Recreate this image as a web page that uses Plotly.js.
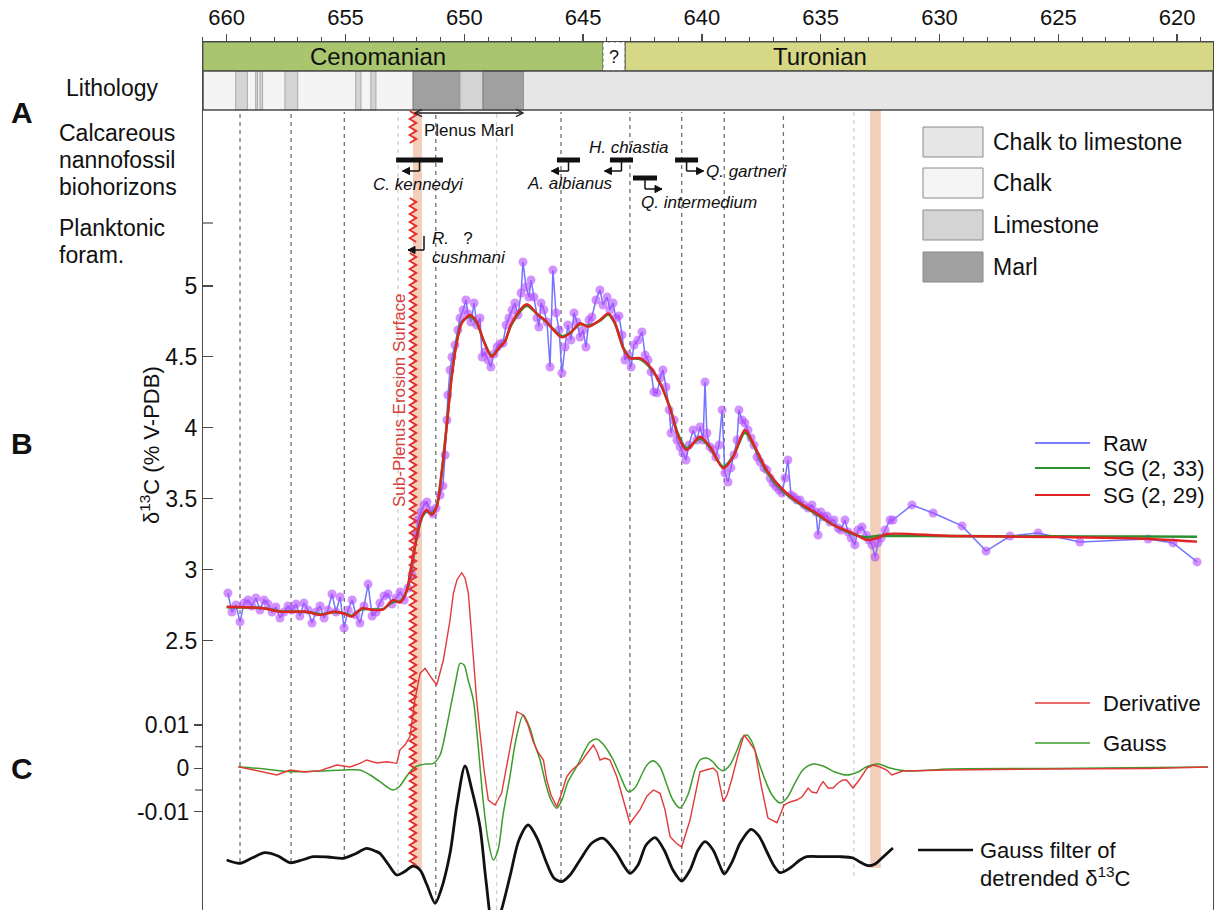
<!DOCTYPE html>
<html>
<head>
<meta charset="utf-8">
<script src="https://cdn.plot.ly/plotly-3.0.1.min.js"></script>
<style>html,body{margin:0;padding:0;background:#fff}#chart{width:1216px;height:910px}</style>
</head>
<body>
<div id="chart"></div>
<script>
// ---------------- DATA ----------------
// Raw δ13C record
const rawAge = [
659.95,659.78,659.61,659.44,659.27,659.10,658.94,658.77,658.60,658.43,
658.26,658.09,657.93,657.76,657.59,657.42,657.25,657.08,656.92,656.75,
656.58,656.41,656.24,656.07,655.90,655.74,655.57,655.40,655.23,655.06,
654.89,654.72,654.56,654.39,654.22,654.05,653.88,653.71,653.55,653.38,
653.21,653.04,652.87,652.70,652.53,652.37,
652.20,652.03,651.95,651.82,651.70,651.57,651.44,651.32,651.19,651.02,
650.90,650.81,650.73,650.69,650.60,650.52,650.39,650.27,650.18,650.05,
649.93,649.84,649.72,649.59,649.47,649.34,649.25,649.13,649.00,648.88,
648.75,648.62,648.50,648.37,648.24,648.12,647.99,647.87,647.74,647.61,
647.53,647.40,647.28,647.19,647.07,646.94,646.86,646.77,646.65,646.52,
646.39,646.27,646.14,646.01,645.89,645.76,645.64,645.51,645.38,645.26,
645.13,645.00,644.88,644.75,644.63,644.46,644.29,644.16,643.99,643.87,
643.74,643.62,643.49,643.36,643.24,643.11,642.98,642.86,642.69,642.52,
642.39,642.27,642.14,642.02,641.89,641.76,641.64,641.51,641.38,641.30,
641.17,641.05,640.92,640.80,640.67,640.54,640.37,640.21,640.08,639.95,
639.87,639.79,639.66,639.53,639.41,639.28,639.15,639.03,638.90,638.78,
638.65,638.52,638.44,638.31,638.19,638.06,637.93,637.81,637.68,637.55,
637.39,637.26,637.13,637.01,636.88,636.75,636.63,636.50,636.38,636.25,
636.12,636.00,635.87,635.70,635.53,635.37,635.20,635.11,634.99,634.86,
634.73,634.61,634.44,634.27,634.15,633.98,633.85,633.72,633.56,633.43,
633.26,633.09,632.97,632.84,632.71,632.59,632.46,632.29,632.08,631.96,
631.16,630.27,629.05,628.04,627.03,625.85,624.09,621.22,620.17,619.16];
const rawD13C = [
2.835,2.701,2.750,2.631,2.764,2.786,2.743,2.800,2.715,2.786,
2.757,2.701,2.736,2.659,2.701,2.743,2.715,2.757,2.673,2.764,
2.715,2.623,2.701,2.743,2.659,2.715,2.828,2.701,2.807,2.588,
2.715,2.786,2.680,2.623,2.743,2.898,2.673,2.701,2.764,2.814,
2.828,2.757,2.800,2.842,2.786,2.870,
2.962,3.244,3.350,3.406,3.456,3.477,3.420,3.392,3.434,3.526,
3.590,3.808,4.055,4.231,4.408,4.499,4.584,4.690,4.774,4.831,
4.901,4.803,4.746,4.880,4.725,4.774,4.499,4.535,4.478,4.429,
4.521,4.570,4.591,4.598,4.725,4.774,4.831,4.880,4.796,4.951,
5.169,4.993,4.922,5.042,4.922,4.774,4.711,4.880,4.831,4.746,
4.429,5.113,4.810,4.690,4.386,4.570,4.725,4.619,4.810,4.746,
4.640,4.690,4.570,4.760,4.781,4.901,4.972,4.866,4.922,4.831,
4.880,4.774,4.789,4.655,4.478,4.513,4.429,4.584,4.619,4.676,
4.513,4.478,4.394,4.253,4.246,4.351,4.408,4.288,4.126,3.963,
4.055,3.914,3.865,3.822,3.773,3.879,3.985,3.914,4.006,3.914,
4.323,3.963,3.865,3.844,3.794,3.879,4.126,3.681,3.618,3.717,
3.808,3.914,4.126,4.055,4.034,3.985,3.928,3.879,3.794,3.759,
3.717,3.702,3.646,3.611,3.583,3.561,3.540,3.646,3.773,3.526,
3.512,3.491,3.491,3.456,3.434,3.456,3.406,3.244,3.406,3.371,
3.378,3.336,3.350,3.293,3.279,3.350,3.265,3.223,3.174,3.279,
3.301,3.244,3.209,3.174,3.089,3.188,3.223,3.279,3.350,3.350,
3.456,3.399,3.308,3.131,3.237,3.258,3.195,3.216,3.188,3.054];

// Savitzky-Golay smoothed curves
const sgAge = [660.00,658.46,657.76,656.63,656.07,655.51,655.09,654.74,654.32,653.83,
653.41,652.99,652.71,652.42,652.21,652.00,651.79,651.58,651.37,651.16,
650.95,650.74,650.53,650.32,650.11,649.76,649.48,649.20,648.85,648.50,
648.29,648.01,647.37,646.89,646.60,646.25,645.90,645.55,645.13,644.78,
644.29,643.94,643.66,643.31,643.03,642.61,642.18,641.76,641.34,640.99,
640.64,640.08,639.66,639.10,638.68,638.19,637.77,637.27,636.57,635.87,
635.17,634.47,633.63,633.06,632.64,632.22,629.55,625.35,621.14,619.16];
const sg29 = [2.738,2.727,2.703,2.703,2.680,2.703,2.692,2.668,2.727,2.715,
2.720,2.786,2.767,2.856,3.044,3.232,3.373,3.420,3.385,3.444,
3.679,4.008,4.360,4.596,4.737,4.795,4.748,4.619,4.501,4.572,
4.607,4.737,4.871,4.795,4.760,4.690,4.638,4.666,4.737,4.713,
4.760,4.807,4.740,4.561,4.491,4.491,4.431,4.314,4.138,3.937,
3.843,3.937,3.867,3.714,3.796,3.984,3.867,3.702,3.561,3.468,
3.397,3.315,3.256,3.209,3.221,3.251,3.237,3.230,3.216,3.197];
const sg33 = [2.735,2.728,2.706,2.702,2.685,2.700,2.693,2.675,2.720,2.718,
2.722,2.775,2.775,2.850,3.040,3.225,3.365,3.410,3.395,3.450,
3.690,4.020,4.370,4.610,4.745,4.785,4.740,4.620,4.510,4.570,
4.610,4.730,4.860,4.795,4.755,4.695,4.645,4.670,4.730,4.720,
4.755,4.800,4.735,4.565,4.495,4.485,4.425,4.315,4.140,3.950,
3.855,3.925,3.860,3.725,3.800,3.965,3.860,3.690,3.550,3.462,
3.390,3.315,3.250,3.228,3.237,3.238,3.236,3.234,3.233,3.232];

// Panel C: derivative of SG curve
const derivAge = [659.51,658.72,657.89,657.33,656.70,656.07,655.37,654.81,654.39,654.11,
653.69,653.27,652.84,652.71,652.50,652.29,652.08,651.86,651.65,651.37,
651.16,650.88,650.74,650.60,650.46,650.31,650.11,649.97,649.83,649.62,
649.48,649.34,649.17,648.99,648.71,648.43,648.24,648.08,647.79,647.52,
647.32,647.10,646.90,646.67,646.53,646.35,646.11,645.93,645.69,645.47,
645.13,644.88,644.57,644.41,644.29,644.08,643.87,643.58,643.32,643.03,
642.61,642.31,642.04,641.76,641.55,641.34,641.09,640.85,640.50,640.08,
639.83,639.53,639.36,639.10,638.94,638.75,638.48,638.23,638.06,637.77,
637.51,637.22,636.84,636.54,636.29,636.01,635.79,635.53,635.37,635.17,
635.03,634.90,634.69,634.48,634.27,634.06,633.91,633.64,633.35,633.05,
632.80,632.50,632.22,632.01,631.54,629.56,625.35,621.14,618.70];
const deriv = [0.00037,-0.00062,-0.00155,-0.00039,-0.00085,-0.00055,0.00076,0.00030,0.00115,0.00192,
0.00122,0.00152,0.00115,0.00423,0.00538,0.00730,0.01577,0.02194,0.02310,0.02079,
0.01924,0.02501,0.02963,0.03425,0.04042,0.04349,0.04517,0.04395,0.04049,0.02501,
0.01577,0.00815,-0.00039,-0.00732,-0.00848,-0.00577,-0.00039,0.00499,0.01307,0.01231,
0.01000,0.00614,0.00376,0.00192,-0.00270,-0.00617,-0.00887,-0.00617,-0.00194,-0.00039,
0.00115,0.00307,0.00538,0.00376,0.00192,0.00238,0.00192,-0.00194,-0.00732,-0.01270,
-0.00963,-0.00640,-0.00501,-0.00577,-0.00963,-0.01580,-0.01725,-0.01818,-0.01194,-0.00079,
-0.00039,0.00007,-0.00085,-0.00771,-0.00617,-0.00270,0.00307,0.00769,0.00654,0.00423,
-0.00386,-0.01148,-0.01256,-0.00848,-0.00778,-0.00732,-0.00663,-0.00455,-0.00547,-0.00570,
-0.00409,-0.00309,-0.00455,-0.00455,-0.00339,-0.00270,-0.00270,-0.00455,-0.00247,0.00007,
0.00076,0.00030,-0.00039,-0.00155,-0.00062,-0.00039,-0.00016,-0.00005,0.00030];

// Panel C: Gauss filter of derivative
const gaussAge = [659.51,658.39,657.33,656.07,655.02,654.39,653.97,653.55,653.25,652.99,
652.71,652.45,652.15,651.86,651.61,651.30,651.02,650.74,650.52,650.35,
650.18,650.01,649.84,649.62,649.42,649.21,649.00,648.78,648.58,648.37,
648.08,647.83,647.52,647.24,647.03,646.81,646.56,646.35,646.11,645.89,
645.64,645.27,644.92,644.71,644.43,644.16,643.95,643.73,643.45,643.10,
642.82,642.52,642.31,642.06,641.76,641.47,641.22,640.92,640.59,640.29,
640.08,639.80,639.53,639.32,639.11,638.82,638.52,638.31,638.11,637.89,
637.64,637.34,637.05,636.71,636.42,636.08,635.75,635.32,634.90,634.40,
633.91,633.43,633.09,632.59,632.08,631.38,629.56,625.35,618.70];
const gaussD = [0.00037,-0.00016,-0.00079,-0.00062,-0.00039,-0.00039,-0.00155,-0.00309,-0.00432,-0.00501,
-0.00409,-0.00201,0,0.00076,0.00099,0.00115,0.00307,0.00961,0.01577,0.02039,
0.02425,0.02386,0.02039,0.01577,0.00538,-0.00732,-0.01656,-0.02118,-0.01887,-0.01079,
-0.00194,0.00654,0.01231,0.00931,0.00538,0.00192,-0.00386,-0.00732,-0.00924,-0.00732,
-0.00316,0.00037,0.00423,0.00607,0.00677,0.00561,0.00400,0.00192,-0.00155,-0.00540,
-0.00455,-0.00132,0.00076,0.00176,0.00030,-0.00386,-0.00732,-0.00917,-0.00617,-0.00039,
0.00192,0.00238,0.00145,0.00007,-0.00055,0.00076,0.00423,0.00700,0.00769,0.00607,
0.00192,-0.00270,-0.00617,-0.00801,-0.00686,-0.00339,-0.00039,0.00099,0.00053,-0.00085,
-0.00155,-0.00085,0.00030,0.00099,0.00007,-0.00062,-0.00016,-0.00005,0.00030];

// Gauss filter of detrended δ13C (arbitrary units)
const gfAge = [660.00,659.44,658.94,658.39,657.84,657.33,656.83,656.36,655.74,655.09,
654.60,654.11,653.76,653.55,653.21,652.84,652.54,652.15,651.86,651.57,
651.23,650.98,650.60,650.31,649.97,649.68,649.34,649.09,648.78,648.50,
648.08,647.70,647.31,646.94,646.53,646.23,645.90,645.55,645.13,644.63,
644.15,643.59,643.28,643.03,642.69,642.35,641.97,641.59,641.22,640.85,
640.50,640.16,639.87,639.53,639.24,639.06,638.73,638.39,637.93,637.60,
637.26,636.96,636.71,636.29,635.87,635.59,634.90,634.19,633.64,633.35,
633.01,632.71,632.33,631.96];
const gf = [0,-0.033,0.02,0.073,0.04,-0.027,0,0.033,0.03,0.017,
0.06,0.117,0.09,0.067,-0.04,-0.15,-0.12,-0.06,-0.10,-0.25,
-0.433,-0.30,0.067,0.55,0.94,0.70,0.333,-0.20,-0.70,-0.55,
-0.167,0.20,0.35,0.22,-0.033,-0.18,-0.217,-0.15,0,0.17,
0.217,0.067,-0.06,-0.133,-0.05,0.15,0.223,0.10,-0.10,-0.21,
-0.10,0.10,0.183,0.10,-0.06,-0.14,-0.02,0.17,0.307,0.24,
0.08,-0.06,-0.127,-0.08,0,0.033,0.033,0.033,0.02,-0.02,
-0.057,-0.04,0.04,0.12];

// Stages
const stageName = ['Cenomanian', '?', 'Turonian'];
const stageFrom = [661.0, 644.16, 643.23];
const stageTo = [644.16, 643.23, 618.4];

// Lithology intervals (drawn in order)
const lithoType = ['Chalk','Limestone','Limestone','Limestone','Limestone','Limestone','Limestone','Marl','Limestone','Marl','Chalk to limestone'];
const lithoFrom = [661.0, 659.62, 658.78, 658.60, 657.55, 654.57, 653.93, 652.16, 650.18, 649.21, 647.49];
const lithoTo   = [652.16, 659.13, 658.70, 658.49, 657.01, 654.35, 653.72, 650.18, 649.21, 647.49, 618.4];

// Cycle boundaries (dashed lines); faint = lighter lines
const cycleAge = [659.44, 657.29, 655.05, 652.79, 651.20, 648.64, 645.93, 643.03, 640.85, 639.06, 636.57, 633.60];
const cycleFaint = [0,0,0,1,0,1,0,0,0,0,0,1];

// Highlighted intervals (orange bands)
const bandFrom = [652.16, 632.92];
const bandTo = [651.78, 632.47];

// Plenus Marl extent
const plenusFrom = 652.08, plenusTo = 647.53;

// Nannofossil biohorizons
const bioName = ['C. kennedyi', 'A. albianus', 'H. chiastia', 'Q. intermedium', 'Q. gartneri'];
const bioFrom = [652.87, 646.10, 643.87, 642.90, 641.13];
const bioTo   = [650.90, 645.13, 642.90, 641.89, 640.16];
const bioDir  = ['left','left','left','right','right'];

// ---------------- LAYOUT HELPERS ----------------
const F = 'Arial, "Liberation Sans", Helvetica, sans-serif';
const X = p => 660 - (p - 226.7) / 23.76;   // page px -> axis position
const PX = a => 226.7 + (660 - a) * 23.76;  // axis position -> page px
const Y = p => (910 - p) / 868;             // page px -> paper y
const XP = p => (p - 203) / 1010;           // page px -> paper x

const shapes = [];
const annotations = [];

// horizontal arrow drawn with shapes: tail px -> tip px at row py
function hArrow(tail, tip, py, col, w, open) {
  shapes.push({type:'line', xref:'paper', yref:'paper', x0:XP(tail), x1:XP(tip), y0:Y(py), y1:Y(py), line:{color:col, width:w}, layer:'above'});
  const s = tip > tail ? -1 : 1;
  const p = 'M' + XP(tip + s * 7) + ',' + Y(py - 3.6) + ' L' + XP(tip) + ',' + Y(py) + ' L' + XP(tip + s * 7) + ',' + Y(py + 3.6) + (open ? '' : ' Z');
  shapes.push({type:'path', xref:'paper', yref:'paper', path:p, fillcolor: open ? 'rgba(0,0,0,0)' : col, line:{color:col, width: open ? w : 1}, layer:'above'});
}

const stageFill = {'Cenomanian':'#a9c66f', '?':'#ffffff', 'Turonian':'#d6d886'};
stageName.forEach((n, i) => {
  shapes.push({type:'rect', xref:'x', yref:'paper', x0:stageFrom[i], x1:stageTo[i], y0:Y(71), y1:Y(42),
    fillcolor:stageFill[n], line:{color: n === '?' ? '#777' : '#4a4a4a', width:1, dash: n === '?' ? 'dot' : 'solid'}, layer:'below'});
});
annotations.push({text:'Cenomanian', xref:'paper', yref:'paper', x:XP(378), y:Y(57), showarrow:false, xanchor:'center', yanchor:'middle', font:{family:F, size:24, color:'#111'}});
annotations.push({text:'?', xref:'x', yref:'paper', x:(stageFrom[1] + stageTo[1]) / 2, y:Y(57), showarrow:false, xanchor:'center', yanchor:'middle', font:{family:F, size:18, color:'#111'}});
annotations.push({text:'Turonian', xref:'paper', yref:'paper', x:XP(820), y:Y(57), showarrow:false, xanchor:'center', yanchor:'middle', font:{family:F, size:24, color:'#111'}});

const lithoFill = {'Chalk':'#f4f4f4', 'Limestone':'#d4d4d4', 'Marl':'#a0a0a0', 'Chalk to limestone':'#e6e6e6'};
const lithoEdge = {'Chalk':'rgba(0,0,0,0)', 'Limestone':'#a9a9a9', 'Marl':'#7a7a7a', 'Chalk to limestone':'rgba(0,0,0,0)'};
lithoType.forEach((t, i) => {
  shapes.push({type:'rect', xref:'x', yref:'paper', x0:lithoFrom[i], x1:lithoTo[i], y0:Y(110), y1:Y(71),
    fillcolor:lithoFill[t], line:{color:lithoEdge[t], width:1}, layer:'below'});
});
shapes.push({type:'rect', xref:'paper', yref:'paper', x0:0, x1:1, y0:Y(110), y1:Y(71), fillcolor:'rgba(0,0,0,0)', line:{color:'#4a4a4a', width:1.5}, layer:'above'});

// dashed cycle lines
const cycleBottom = [862, 862, 858, 873, 903, 910, 882, 873, 881, 874, 872, 876];
cycleAge.forEach((a, i) => {
  shapes.push({type:'line', xref:'x', yref:'paper', x0:a, x1:a, y0:Y(cycleBottom[i]), y1:Y(112),
    line:{color: cycleFaint[i] ? '#cfcfcf' : '#707070', width:1.3, dash:'4px,4px'}, layer:'below'});
});

// orange bands
bandFrom.forEach((a, i) => {
  shapes.push({type:'rect', xref:'x', yref:'paper', x0:a, x1:bandTo[i], y0:Y(868), y1:Y(110),
    fillcolor:'rgba(236,180,150,0.65)', line:{width:0}, layer:'below'});
});

// zigzag erosion surface
function zig(p0, p1) {
  let d = '', k = 0;
  for (let p = p0; p <= p1; p += 4, k++) {
    d += (k ? 'L' : 'M') + X(413 + (k % 2 ? 3.2 : -3.2)).toFixed(4) + ',' + Y(p).toFixed(5) + ' ';
  }
  return d;
}
[[111, 145], [198, 243], [253, 868]].forEach(s => {
  shapes.push({type:'path', xref:'x', yref:'paper', path:zig(s[0], s[1]), line:{color:'#e3302a', width:2}, layer:'above'});
});
annotations.push({text:'Sub-Plenus Erosion Surface', xref:'paper', yref:'paper', x:XP(399), y:Y(400), textangle:-90,
  showarrow:false, xanchor:'center', yanchor:'middle', font:{family:F, size:17, color:'#d8403c'}});

// Plenus Marl double arrow
hArrow(PX((plenusFrom + plenusTo) / 2), PX(plenusTo), 113, '#222', 1.3, true);
hArrow(PX((plenusFrom + plenusTo) / 2), PX(plenusFrom), 113, '#222', 1.3, true);
annotations.push({text:'Plenus Marl', xref:'paper', yref:'paper', x:XP(469), y:Y(130), showarrow:false, xanchor:'center', yanchor:'middle', font:{family:F, size:17, color:'#111'}});

// biohorizon bars + hooks
const bioRow = [160, 160, 160, 178, 160];
bioName.forEach((n, i) => {
  const yr = bioRow[i];
  shapes.push({type:'line', xref:'x', yref:'paper', x0:bioFrom[i], x1:bioTo[i], y0:Y(yr), y1:Y(yr), line:{color:'#111', width:5}, layer:'above'});
  const c = PX((bioFrom[i] + bioTo[i]) / 2);
  shapes.push({type:'line', xref:'paper', yref:'paper', x0:XP(c), x1:XP(c), y0:Y(yr + 2), y1:Y(yr + 11), line:{color:'#111', width:1.5}, layer:'above'});
  hArrow(c, bioDir[i] === 'left' ? c - 17 : c + 17, yr + 11, '#111', 1.5, false);
});
const italic = (t, px, py, anchor) => annotations.push({text:'<i>' + t + '</i>', xref:'paper', yref:'paper', x:XP(px), y:Y(py), showarrow:false,
  xanchor:anchor, yanchor:'middle', font:{family:F, size:17, color:'#111'}});
italic('C. kennedyi', 418, 184, 'center');
italic('A. albianus', 570, 183, 'center');
italic('H. chiastia', 628, 148, 'center');
italic('Q. intermedium', 639, 203, 'left');
italic('Q. gartneri', 704, 172, 'left');
// R. cushmani
shapes.push({type:'line', xref:'paper', yref:'paper', x0:XP(424), x1:XP(424), y0:Y(236), y1:Y(250), line:{color:'#111', width:1.5}, layer:'above'});
hArrow(424, 408, 250, '#111', 1.5, false);
annotations.push({text:'<i>R.</i>   ?', xref:'paper', yref:'paper', x:XP(430), y:Y(238), showarrow:false, xanchor:'left', yanchor:'middle', font:{family:F, size:17, color:'#111'}});
italic('cushmani', 430, 257, 'left');

// left labels
const leftLab = (t, px, py, size, bold) => annotations.push({text: bold ? '<b>' + t + '</b>' : t, xref:'paper', yref:'paper', x:XP(px), y:Y(py),
  showarrow:false, xanchor:'left', yanchor:'middle', font:{family:F, size:size, color:'#111'}});
leftLab('Lithology', 64, 88, 23);
leftLab('Calcareous', 57, 133, 23);
leftLab('nannofossil', 57, 160, 23);
leftLab('biohorizons', 57, 187, 23);
leftLab('Planktonic', 57, 228, 23);
leftLab('foram.', 57, 255, 23);
leftLab('A', 9, 112, 30, true);
leftLab('B', 9, 443, 30, true);
leftLab('C', 9, 768, 30, true);
annotations.push({text:'δ<sup>13</sup>C (% V-PDB)', xref:'paper', yref:'paper', x:XP(150), y:Y(445), textangle:-90, showarrow:false,
  xanchor:'center', yanchor:'middle', font:{family:F, size:22, color:'#111'}});

// extra unlabeled axis ticks (panel boundary tick and derivative half-ticks)
shapes.push({type:'line', xref:'paper', yref:'paper', x0:XP(203), x1:XP(213), y0:Y(223), y1:Y(223), line:{color:'#4a4a4a', width:1.2}});
[746.7, 790].forEach(p => shapes.push({type:'line', xref:'paper', yref:'paper', x0:XP(195), x1:XP(203), y0:Y(p), y1:Y(p), line:{color:'#4a4a4a', width:1.2}}));

// lithology legend
const litLeg = ['Chalk to limestone', 'Chalk', 'Limestone', 'Marl'];
const litLegFill = ['#e6e6e6', '#f5f5f5', '#d4d4d4', '#a0a0a0'];
const litLegY = [127, 168, 210, 252];
litLeg.forEach((t, i) => {
  shapes.push({type:'rect', xref:'paper', yref:'paper', x0:XP(923), x1:XP(983), y0:Y(litLegY[i] + 30), y1:Y(litLegY[i]),
    fillcolor:litLegFill[i], line:{color:'#8a8a8a', width:1}, layer:'above'});
  annotations.push({text:t, xref:'paper', yref:'paper', x:XP(991), y:Y(litLegY[i] + 15), showarrow:false, xanchor:'left', yanchor:'middle',
    font:{family:F, size:23, color:'#111'}});
});

// line legends
const lineLeg = (t, col, w, py, x0, x1, tx) => {
  shapes.push({type:'line', xref:'paper', yref:'paper', x0:XP(x0), x1:XP(x1), y0:Y(py), y1:Y(py), line:{color:col, width:w}, layer:'above'});
  annotations.push({text:t, xref:'paper', yref:'paper', x:XP(tx), y:Y(py), showarrow:false, xanchor:'left', yanchor:'middle',
    font:{family:F, size:22, color:'#111'}});
};
lineLeg('Raw', '#7d7dff', 1.8, 443, 1035, 1090, 1101);
lineLeg('SG (2, 33)', '#2f8f2f', 2, 468, 1035, 1090, 1101);
lineLeg('SG (2, 29)', '#e02424', 2, 495, 1035, 1090, 1101);
lineLeg('Derivative', '#e23a3a', 1.6, 703, 1035, 1090, 1101);
lineLeg('Gauss', '#3c9c2c', 1.6, 743, 1035, 1090, 1101);
lineLeg('Gauss filter of', '#111', 2.5, 850, 918, 973, 978);
annotations.push({text:'detrended δ<sup>13</sup>C', xref:'paper', yref:'paper', x:XP(978), y:Y(877), showarrow:false, xanchor:'left', yanchor:'middle',
  font:{family:F, size:22, color:'#111'}});

// ---------------- TRACES ----------------
const traces = [
  {x:rawAge, y:rawD13C, type:'scatter', mode:'lines+markers', name:'Raw', yaxis:'y',
   line:{color:'#7474ff', width:1.5}, marker:{color:'rgba(180,75,255,0.6)', size:9}},
  {x:sgAge, y:sg33, type:'scatter', mode:'lines', name:'SG (2, 33)', yaxis:'y', line:{color:'#2f8f2f', width:2.6, shape:'spline', smoothing:0.8}},
  {x:sgAge, y:sg29, type:'scatter', mode:'lines', name:'SG (2, 29)', yaxis:'y', line:{color:'#e02424', width:2.4, shape:'spline', smoothing:0.8}},
  {x:gaussAge, y:gaussD, type:'scatter', mode:'lines', name:'Gauss', yaxis:'y2', line:{color:'#3c9c2c', width:1.5, shape:'spline', smoothing:0.8}},
  {x:derivAge, y:deriv, type:'scatter', mode:'lines', name:'Derivative', yaxis:'y2', line:{color:'#e23a3a', width:1.4}},
  {x:gfAge, y:gf, type:'scatter', mode:'lines', name:'Gauss filter of detrended δ13C', yaxis:'y3', line:{color:'#111', width:2.8, shape:'spline', smoothing:0.8}}
];

const layout = {
  width:1216, height:910,
  margin:{l:203, r:3, t:42, b:0, pad:0},
  paper_bgcolor:'#fff', plot_bgcolor:'#fff',
  showlegend:false,
  font:{family:F, color:'#111'},
  xaxis:{range:[X(203), X(1213)], side:'top', showline:true, linecolor:'#4a4a4a', linewidth:1.2,
    ticks:'outside', ticklen:7, tickwidth:1.2, tickcolor:'#4a4a4a', tick0:0, dtick:5,
    minor:{dtick:1, ticks:'outside', ticklen:3.5, tickwidth:1, tickcolor:'#4a4a4a'},
    tickfont:{family:F, size:22, color:'#111'}, showgrid:false, zeroline:false},
  yaxis:{range:[5 - (910 - 286) / 141.8, 5 + (286 - 42) / 141.8], showline:true, mirror:true, linecolor:'#4a4a4a', linewidth:1.2,
    ticks:'inside', ticklen:10, tickwidth:1.2, tickcolor:'#4a4a4a',
    tickvals:[2.5, 3, 3.5, 4, 4.5, 5],
    tickfont:{family:F, size:23, color:'#111'}, showgrid:false, zeroline:false},
  yaxis2:{overlaying:'y', side:'left', range:[(768.3 - 910) / 4330, (768.3 - 42) / 4330], showline:false,
    ticks:'outside', ticklen:8, tickwidth:1.2, tickcolor:'#4a4a4a',
    tickvals:[-0.01, 0, 0.01], ticktext:['-0.01', '0', '0.01'],
    tickfont:{family:F, size:23, color:'#111'}, showgrid:false, zeroline:false},
  yaxis3:{overlaying:'y', range:[-0.5, 8.18], visible:false},
  shapes:shapes,
  annotations:annotations
};

Plotly.newPlot('chart', traces, layout, {displayModeBar:false, staticPlot:true}).then(gd => {
  // drop empty placeholder text nodes (e.g. blank axis titles)
  gd.querySelectorAll('text').forEach(t => { if (!t.textContent.trim()) t.remove(); });
});
</script>
</body>
</html>
